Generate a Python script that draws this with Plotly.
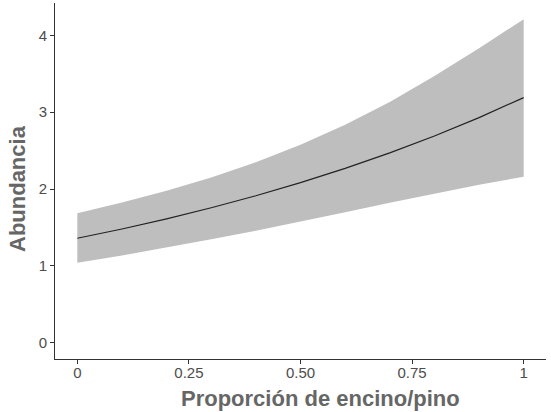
import plotly.graph_objects as go

# Predicted abundance along the oak/pine proportion gradient
proporcion = [0.0, 0.1, 0.2, 0.3, 0.4, 0.5, 0.6, 0.7, 0.8, 0.9, 1.0]
ajuste = [1.36, 1.481, 1.613, 1.757, 1.913, 2.083, 2.269, 2.471, 2.691, 2.930, 3.19]
limite_sup = [1.684, 1.825, 1.979, 2.152, 2.349, 2.575, 2.836, 3.133, 3.471, 3.832, 4.21]
limite_inf = [1.043, 1.137, 1.239, 1.346, 1.458, 1.575, 1.697, 1.821, 1.943, 2.057, 2.16]

x_ticks = [0, 0.25, 0.5, 0.75, 1]
x_ticklabels = ["0", "0.25", "0.50", "0.75", "1"]
y_ticks = [0, 1, 2, 3, 4]

FONT = "Liberation Sans, Arial, sans-serif"
TITLE_FONT = dict(family=FONT, size=22, color="#666666")

fig = go.Figure()

# confidence band
fig.add_trace(go.Scatter(
    x=proporcion + proporcion[::-1],
    y=limite_sup + limite_inf[::-1],
    fill="toself",
    fillcolor="#BEBEBE",
    line=dict(width=0),
    mode="lines",
    hoverinfo="skip",
    showlegend=False,
))

# fitted curve
fig.add_trace(go.Scatter(
    x=proporcion,
    y=ajuste,
    mode="lines",
    line=dict(color="#222222", width=1.2),
    showlegend=False,
))

axis_common = dict(
    showgrid=False,
    zeroline=False,
    showline=True,
    linecolor="#333333",
    linewidth=1,
    ticks="outside",
    ticklen=4,
    tickwidth=1,
    tickcolor="#333333",
    tickfont=dict(family=FONT, size=15, color="#4D4D4D"),
)

fig.update_layout(
    width=551,
    height=412,
    margin=dict(l=55, r=5, t=3, b=53),
    plot_bgcolor="white",
    paper_bgcolor="white",
    xaxis=dict(
        range=[-0.05, 1.05],
        tickvals=x_ticks,
        ticktext=x_ticklabels,
        ticklabelstandoff=-4,
        **axis_common,
    ),
    yaxis=dict(
        range=[-0.2105, 4.4205],
        tickvals=y_ticks,
        **axis_common,
    ),
)

# axis titles
fig.add_annotation(
    text="<b>Proporción de encino/pino</b>",
    xref="paper", yref="paper",
    x=0.541, y=-0.11,
    xanchor="center", yanchor="middle",
    showarrow=False, font=TITLE_FONT,
)
fig.add_annotation(
    text="<b>Abundancia</b>",
    xref="paper", yref="paper",
    x=-0.075, y=0.478,
    xanchor="center", yanchor="middle",
    textangle=-90,
    showarrow=False, font=TITLE_FONT,
)

fig.write_html("out.html")
